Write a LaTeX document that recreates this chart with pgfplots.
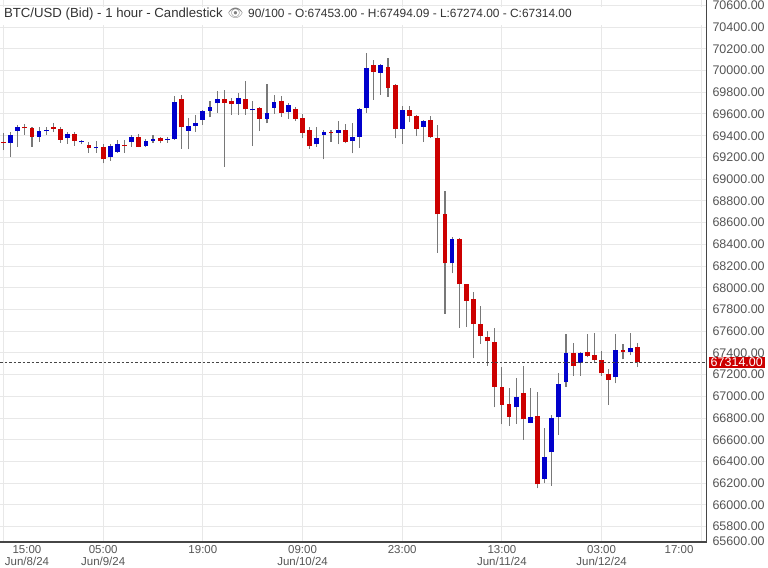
\documentclass[border=0pt]{standalone}
\usepackage{pgfplots}
\pgfplotsset{compat=1.18}
\usepackage{pgfplotstable}
\usepackage{fontspec}
\setmainfont{Liberation Sans}
\newfontfamily\emojifont{Noto Emoji}
\definecolor{upblue}{RGB}{0,0,204}
\definecolor{downred}{RGB}{204,0,0}
\definecolor{wickgray}{RGB}{120,120,120}
\definecolor{gridgray}{RGB}{232,232,232}
\definecolor{labelgray}{RGB}{85,85,85}
\definecolor{axisgray}{RGB}{70,70,70}
\definecolor{titlegray}{RGB}{51,51,51}
\definecolor{tagred}{RGB}{204,0,0}

\pgfplotstableread{
t O H L C
1 69336 69437 69207 69403
2 69446 69499 69299 69483
5 69391 69483 69345 69446
6 69443 69483 69407 69453
9 69382 69437 69324 69413
11 69339 69360 69324 69351
13 69284 69348 69244 69296
15 69201 69324 69170 69305
16 69253 69361 69244 69321
18 69342 69407 69299 69391
20 69305 69367 69293 69348
21 69354 69410 69336 69370
23 69361 69391 69336 69370
24 69370 69766 69361 69710
26 69446 69560 69275 69489
27 69489 69591 69437 69520
28 69548 69637 69499 69625
29 69628 69720 69569 69661
30 69698 69815 69612 69735
33 69692 69790 69591 69747
35 69634 69720 69305 69646
37 69554 69876 69514 69612
38 69658 69775 69600 69713
40 69615 69698 69554 69683
44 69321 69483 69299 69376
45 69410 69453 69182 69431
47 69428 69535 69321 69456
49 69354 69514 69238 69385
50 69391 69652 69290 69646
51 69658 70159 69612 70020
53 69981 70060 69775 70051
56 69462 69677 69324 69637
59 69483 69548 69342 69540
63 68225 68470 68133 68446
72 66898 67165 66745 66997
74 66757 67080 66750 66812
76 66238 66705 66198 66444
77 66484 66828 66174 66803
78 66806 67218 66644 67110
79 67129 67574 67089 67402
81 67304 67410 67190 67402
86 67175 67571 67119 67426
88 67411 67580 67380 67448
}\upcandles

\pgfplotstableread{
t O H L C
0 69345 69422 69268 69339
3 69480 69505 69407 69468
4 69468 69477 69299 69391
7 69477 69520 69437 69462
8 69459 69483 69336 69364
10 69413 69431 69308 69354
12 69311 69345 69244 69284
14 69296 69324 69146 69182
17 69318 69361 69244 69305
19 69391 69413 69293 69296
22 69376 69391 69330 69351
25 69735 69775 69281 69477
31 69738 69821 69115 69704
32 69720 69744 69591 69692
34 69735 69904 69591 69643
36 69652 69660 69443 69554
39 69720 69766 69575 69612
41 69646 69661 69535 69554
42 69560 69600 69376 69428
43 69453 69477 69278 69305
46 69434 69453 69345 69428
48 69453 69505 69330 69345
52 70051 70097 69729 69990
54 70036 70113 69760 69842
55 69867 69875 69376 69462
57 69640 69674 69523 69585
58 69581 69590 69397 69462
60 69545 69581 69380 69385
61 69382 69499 68323 68676
62 68679 68894 67758 68225
64 68446 68455 67632 68031
65 68031 68035 67641 67878
66 67893 67958 67350 67666
67 67663 67832 67482 67558
68 67543 67604 67279 67506
69 67503 67632 66898 67089
70 67083 67273 66742 66920
71 66926 67080 66727 66812
73 67027 67279 66598 66788
75 66819 67043 66152 66189
80 67402 67488 67190 67282
82 67411 67574 67359 67371
83 67377 67580 67313 67334
84 67334 67420 67190 67211
85 67208 67248 66920 67150
87 67426 67479 67340 67405
89 67453 67494.09 67274 67314
}\downcandles

\begin{document}
\begin{tikzpicture}
\useasboundingbox (0,0) rectangle (768bp,568bp);
\begin{axis}[
  at={(0,26bp)}, anchor=south west,
  scale only axis, width=706.5bp, height=542bp,
  xmin=-0.49, xmax=98.73,
  ymin=65658, ymax=70650,
  axis line style={draw=none},
  clip mode=individual,
  xtick={0,14,28,42,56,70,84,98},
  xticklabels={,{05:00\\Jun/9/24},19:00,{09:00\\Jun/10/24},23:00,{13:00\\Jun/11/24},{03:00\\Jun/12/24},},
  xticklabel style={align=center, font=\fontsize{11.5bp}{12bp}\selectfont, text=labelgray, anchor=north},
  ytick={65800,66000,...,70600},
  yticklabel pos=right,
  scaled y ticks=false,
  yticklabel style={font=\fontsize{12.5bp}{14bp}\selectfont, text=labelgray, xshift=2.5bp,
    /pgf/number format/.cd, fixed, fixed zerofill, precision=2, 1000 sep={}},
  /pgf/number format/assume math mode=true,
  grid=major,
  major grid style={draw=gridgray, line width=1bp},
  major tick length=0pt,
]
% wicks
\addplot[draw=none, mark=none, forget plot,
  error bars/.cd, y dir=plus, y explicit, error mark=none,
  error bar style={draw=wickgray, line width=1.1bp}]
  table[x=t, y=L, y error plus expr=\thisrow{H}-\thisrow{L}] {\upcandles};
\addplot[draw=none, mark=none, forget plot,
  error bars/.cd, y dir=plus, y explicit, error mark=none,
  error bar style={draw=wickgray, line width=1.1bp}]
  table[x=t, y=L, y error plus expr=\thisrow{H}-\thisrow{L}] {\downcandles};
% bodies
\addplot[draw=none, mark=none, forget plot,
  error bars/.cd, y dir=plus, y explicit, error mark=none,
  error bar style={draw=upblue, line width=4.8bp}]
  table[x=t, y=O, y error plus expr=\thisrow{C}-\thisrow{O}] {\upcandles};
\addplot[draw=none, mark=none, forget plot,
  error bars/.cd, y dir=plus, y explicit, error mark=none,
  error bar style={draw=downred, line width=4.8bp}]
  table[x=t, y=C, y error plus expr=\thisrow{O}-\thisrow{C}] {\downcandles};
% last price line
\addplot[axisgray, line width=0.8bp, dash pattern=on 2.5bp off 2bp, mark=none] coordinates {(-0.49,67314) (98.73,67314)};
\coordinate (lastprice) at (axis cs:98.73,67314);
% header band
\fill[white] (rel axis cs:0,0.9538) rectangle (rel axis cs:1,0.9871);
\node[anchor=west, text=titlegray, inner sep=0pt] at (rel axis cs:0.0055,0.9741)
  {\fontsize{13.2bp}{15bp}\selectfont BTC/USD (Bid) - 1 hour - Candlestick\hspace{5bp}{\color{gray}\emojifont\fontsize{12.5bp}{12bp}\selectfont 👁}\hspace{1bp} \fontsize{11.9bp}{14bp}\selectfont 90/100 - O:67453.00 - H:67494.09 - L:67274.00 - C:67314.00};
% axis lines
\draw[axisgray, line width=1.3bp] (rel axis cs:0,0) -- (rel axis cs:1,0) -- (rel axis cs:1,1);
% edge x labels
\node[anchor=north, align=center, font=\fontsize{11.5bp}{12bp}\selectfont, text=labelgray] at (rel axis cs:0.0382,0) {15:00\\Jun/8/24};
\node[anchor=north, align=center, font=\fontsize{11.5bp}{12bp}\selectfont, text=labelgray] at (rel axis cs:0.9611,0) {17:00};
% bottom y label
\node[anchor=west, font=\fontsize{12.5bp}{14bp}\selectfont, text=labelgray, xshift=2.5bp] at (rel axis cs:1,0.002) {65600.00};
\end{axis}
% price tag drawn on top of the tick labels
\node[anchor=west, fill=tagred, text=white, inner xsep=2bp, inner ysep=1.2bp, font=\fontsize{12.5bp}{14bp}\selectfont, xshift=2bp] at (lastprice) {67314.00};
\end{tikzpicture}
\end{document}
